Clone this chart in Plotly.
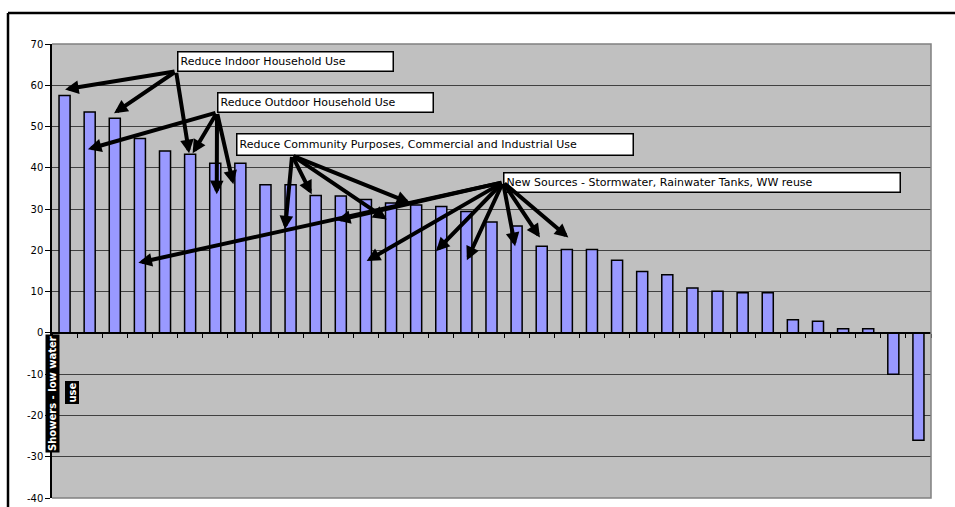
import plotly.graph_objects as go

# ---- data ----
bar_index = list(range(35))
savings = [57.5, 53.5, 52.0, 47.1, 44.1, 43.3, 41.1, 41.1, 35.9, 35.9,
           33.3, 33.2, 32.3, 31.5, 31.0, 30.6, 29.4, 26.9, 25.9, 21.0,
           20.2, 20.2, 17.6, 14.9, 14.1, 10.9, 10.1, 9.7, 9.7, 3.2,
           2.8, 1.0, 1.0, -10.0, -26.0]
first_label_lines = ["Showers - low water", "use"]
y_ticks = [70, 60, 50, 40, 30, 20, 10, 0, -10, -20, -30, -40]

group_labels = ["Reduce Indoor Household Use",
                "Reduce Outdoor Household Use",
                "Reduce Community Purposes, Commercial and Industrial Use",
                "New Sources - Stormwater, Rainwater Tanks, WW reuse"]
# arrow tails (bar index, value) for each group
group_tails = [(4.44, 63.4), (6.07, 53.4), (9.06, 43.0), (17.46, 36.5)]
# arrow heads (bar index, value) for each group
group_heads = [
    [(0.02, 59.0), (1.97, 53.2), (4.96, 43.5)],
    [(0.93, 44.5), (5.10, 43.5), (6.06, 33.6), (6.72, 36.0)],
    [(8.78, 25.1), (9.84, 33.6), (12.83, 27.5), (13.76, 31.5)],
    [(2.94, 17.0), (10.84, 27.3), (12.03, 17.4), (14.79, 19.8),
     (16.02, 17.6), (17.94, 21.0), (18.93, 23.1), (20.06, 23.1)],
]

# ---- layout constants ----
W, H = 955, 507
ML, MR, MT, MB = 52, 24, 44, 9
PW, PH = W - ML - MR, H - MT - MB
YMIN, YMAX = -40, 70


def px_x(px):
    return (px - ML) / PW


def px_y(py):
    return (H - MB - py) / PH


fig = go.Figure()
fig.add_trace(go.Bar(
    x=bar_index, y=savings, width=0.44,
    marker=dict(color="#9999FF", line=dict(color="black", width=1.5)),
    hoverinfo="y", showlegend=False,
))

annotations = []
# label boxes: (left px, top px, outer width, outer height)
box_geo = [(177, 51, 217, 21), (217, 92, 217, 21), (236, 133, 398, 23), (503, 172, 398, 21)]
BW, BP = 1.5, 2
for text, (lx, ty, w, h) in zip(group_labels, box_geo):
    annotations.append(dict(
        text=text, xref="paper", yref="paper", x=px_x(lx), y=px_y(ty),
        xanchor="left", yanchor="top", showarrow=False, align="left",
        width=w - 2 * (BW + BP), height=h - 2 * (BW + BP),
        bgcolor="white", bordercolor="black", borderwidth=BW, borderpad=BP,
        font=dict(family="DejaVu Sans", size=11, color="black"),
    ))

for (tx, ty), heads in zip(group_tails, group_heads):
    for hx, hy in heads:
        annotations.append(dict(
            text="", x=hx, y=hy, xref="x", yref="y",
            ax=tx, ay=ty, axref="x", ayref="y",
            showarrow=True, arrowhead=2, arrowsize=0.68, arrowwidth=4,
            arrowcolor="black", standoff=0, startstandoff=0,
        ))

# rotated category label for the first bar
annotations.append(dict(
    text="<b>" + first_label_lines[0] + "</b>", xref="paper", yref="paper",
    x=px_x(52.5), y=px_y(393.5), xanchor="center", yanchor="middle",
    textangle=-90, showarrow=False, bgcolor="black", borderpad=1,
    font=dict(family="DejaVu Sans", size=10, color="white"),
))
annotations.append(dict(
    text="<b>" + first_label_lines[1] + "</b>", xref="paper", yref="paper",
    x=px_x(71.5), y=px_y(393), xanchor="center", yanchor="middle",
    textangle=-90, showarrow=False, bgcolor="black", borderpad=1,
    font=dict(family="DejaVu Sans", size=10, color="white"),
))

shapes = [
    # plot-area grey border (top, right, bottom)
    dict(type="path", xref="paper", yref="paper",
         path="M 0,1 L 1,1 L 1,0 L 0,0", line=dict(color="#808080", width=1.5),
         layer="above"),
    # outer chart frame (left and top)
    dict(type="line", xref="paper", yref="paper",
         x0=px_x(8), x1=px_x(8), y0=px_y(520), y1=px_y(13),
         line=dict(color="black", width=2.5)),
    dict(type="line", xref="paper", yref="paper",
         x0=px_x(8), x1=px_x(970), y0=px_y(13), y1=px_y(13),
         line=dict(color="black", width=2.5)),
]

fig.update_layout(
    width=W, height=H,
    margin=dict(l=ML, r=MR, t=MT, b=MB, autoexpand=False),
    paper_bgcolor="white", plot_bgcolor="#C0C0C0",
    annotations=annotations, shapes=shapes,
    font=dict(family="DejaVu Sans", size=10, color="black"),
    xaxis=dict(
        range=[-0.5, len(bar_index) - 0.5], anchor="free",
        position=(0 - YMIN) / (YMAX - YMIN),
        tickvals=[i - 0.5 for i in range(len(bar_index) + 1)],
        ticks="outside", ticklen=4, tickcolor="black", tickwidth=1,
        showticklabels=False, showline=True, linecolor="black", linewidth=1.5,
        showgrid=False, zeroline=False, fixedrange=True,
    ),
    yaxis=dict(
        range=[YMIN, YMAX], tickvals=y_ticks, ticktext=[str(v) for v in y_ticks],
        ticks="outside", ticklen=5, tickcolor="black",
        showline=True, linecolor="black", linewidth=1.5,
        showgrid=True, gridcolor="#404040", gridwidth=1,
        zeroline=False, tickfont=dict(size=10), fixedrange=True,
    ),
)

fig.write_html("out.html")
